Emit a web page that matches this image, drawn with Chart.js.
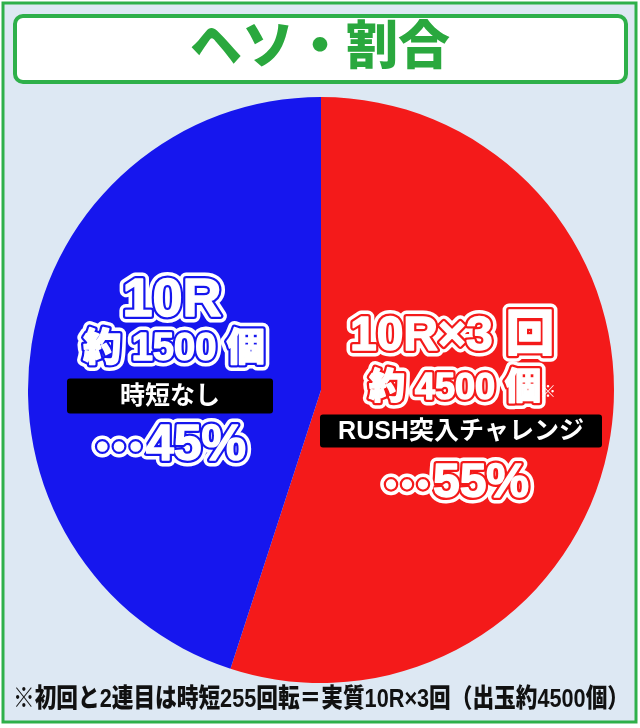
<!DOCTYPE html>
<html lang="ja">
<head>
    <meta charset="UTF-8">
    <title>ヘソ・割合</title>
    <script src="https://cdn.jsdelivr.net/npm/chart.js"></script>
    <style>
        body {
            margin: 0;
            padding: 0;
            background-color: #fff;
        }

        .chart-container {
            width: 640px;
            height: 728px;
        }
    </style>
</head>
<body>
    <div class="chart-container">
        <canvas id="pieChart"></canvas>
    </div>

    <script>
        // データ
        const categories = ["10R×3回 RUSH突入チャレンジ", "10R 時短なし"];
        const shares = [55, 45];
        const sliceColors = ["#f41a1a", "#1616ee"];
        const titleText = "ヘソ・割合";
        const noteText = "※初回と2連目は時短255回転＝実質10R×3回（出玉約4500個）";

        const FONT = '"Liberation Sans", "Noto Sans CJK JP", sans-serif';
        const CJK = '"Noto Sans CJK JP", sans-serif';

        function outlinedText(ctx, text, x, y, size, edge, family, align) {
            ctx.font = "900 " + size + "px " + (family || FONT);
            ctx.textAlign = align || "center";
            ctx.textBaseline = "middle";
            ctx.lineJoin = "round";
            ctx.strokeStyle = "#fff";
            ctx.lineWidth = 13;
            ctx.strokeText(text, x, y);
            ctx.strokeStyle = edge;
            ctx.lineWidth = 6;
            ctx.strokeText(text, x, y);
            ctx.strokeStyle = "#fff";
            ctx.lineWidth = 1.5;
            ctx.strokeText(text, x, y);
            ctx.fillStyle = "#fff";
            ctx.fillText(text, x, y);
        }

        // 「…」は和文フォントで中央に、数字は欧文で
        function percentText(ctx, value, cx, y, size, edge) {
            ctx.font = "900 " + size + "px " + CJK;
            const dotW = ctx.measureText("…").width + 2;
            ctx.font = "900 " + size + "px " + FONT;
            const numW = ctx.measureText(value).width;
            const left = cx - (dotW + numW) / 2;
            outlinedText(ctx, value, left + dotW, y, size, edge, FONT, "left");
            outlinedText(ctx, "…", left, y, size, edge, CJK, "left");
        }

        function blackTag(ctx, text, cx, cy, w, h, size) {
            ctx.fillStyle = "#000";
            ctx.beginPath();
            ctx.roundRect(cx - w / 2, cy - h / 2, w, h, 3);
            ctx.fill();
            ctx.font = "bold " + size + "px " + FONT;
            ctx.textAlign = "center";
            ctx.textBaseline = "middle";
            ctx.fillStyle = "#fff";
            ctx.fillText(text, cx, cy + 1, w - 8);
        }

        const framePlugin = {
            id: "frame",
            beforeDraw(chart) {
                const ctx = chart.ctx;
                ctx.save();
                ctx.fillStyle = "#fff";
                ctx.fillRect(0, 0, chart.width, chart.height);
                ctx.fillStyle = "#dde8f3";
                ctx.fillRect(3, 3, 633, 719);
                ctx.strokeStyle = "#2eb04a";
                ctx.lineWidth = 3;
                ctx.strokeRect(3, 3, 633, 719);

                // タイトル枠
                ctx.fillStyle = "#fff";
                ctx.beginPath();
                ctx.roundRect(15, 16, 611, 66, 8);
                ctx.fill();
                ctx.lineWidth = 4;
                ctx.strokeStyle = "#2eb04a";
                ctx.stroke();
                ctx.font = "900 52px " + FONT;
                ctx.textAlign = "center";
                ctx.textBaseline = "middle";
                ctx.fillStyle = "#2aa83e";
                ctx.fillText(titleText, 320, 50);
                ctx.restore();
            },
            afterDraw(chart) {
                const ctx = chart.ctx;
                ctx.save();
                // 青側
                outlinedText(ctx, "10R", 172, 301, 54, "#1616ee");
                outlinedText(ctx, "約 1500 個", 174, 350, 38, "#1616ee");
                blackTag(ctx, "時短なし", 170, 396, 206, 35, 25);
                percentText(ctx, "45%", 170, 446, 50, "#1616ee");

                // 赤側
                outlinedText(ctx, "10R×3 回", 452, 337, 48, "#f41a1a");
                outlinedText(ctx, "約 4500 個", 455, 389, 36, "#f41a1a");
                ctx.font = "bold 16px " + FONT;
                ctx.fillStyle = "#fff";
                ctx.textAlign = "left";
                ctx.fillText("※", 540, 393);
                blackTag(ctx, "RUSH突入チャレンジ", 461, 431, 282, 33, 25);
                percentText(ctx, "55%", 456, 484, 48, "#f41a1a");

                // 注記
                ctx.font = "900 26px " + FONT;
                ctx.textAlign = "center";
                ctx.textBaseline = "middle";
                ctx.fillStyle = "#111";
                ctx.fillText(noteText, 321, 700, 616);
                ctx.restore();
            }
        };

        new Chart(document.getElementById("pieChart"), {
            type: "pie",
            data: {
                labels: categories,
                datasets: [{
                    data: shares,
                    backgroundColor: sliceColors,
                    borderWidth: 0
                }]
            },
            options: {
                responsive: true,
                maintainAspectRatio: false,
                animation: false,
                layout: {
                    padding: { left: 28, right: 26, top: 97, bottom: 45 }
                },
                plugins: {
                    legend: { display: false },
                    tooltip: { enabled: false }
                }
            },
            plugins: [framePlugin]
        });
    </script>
</body>
</html>
